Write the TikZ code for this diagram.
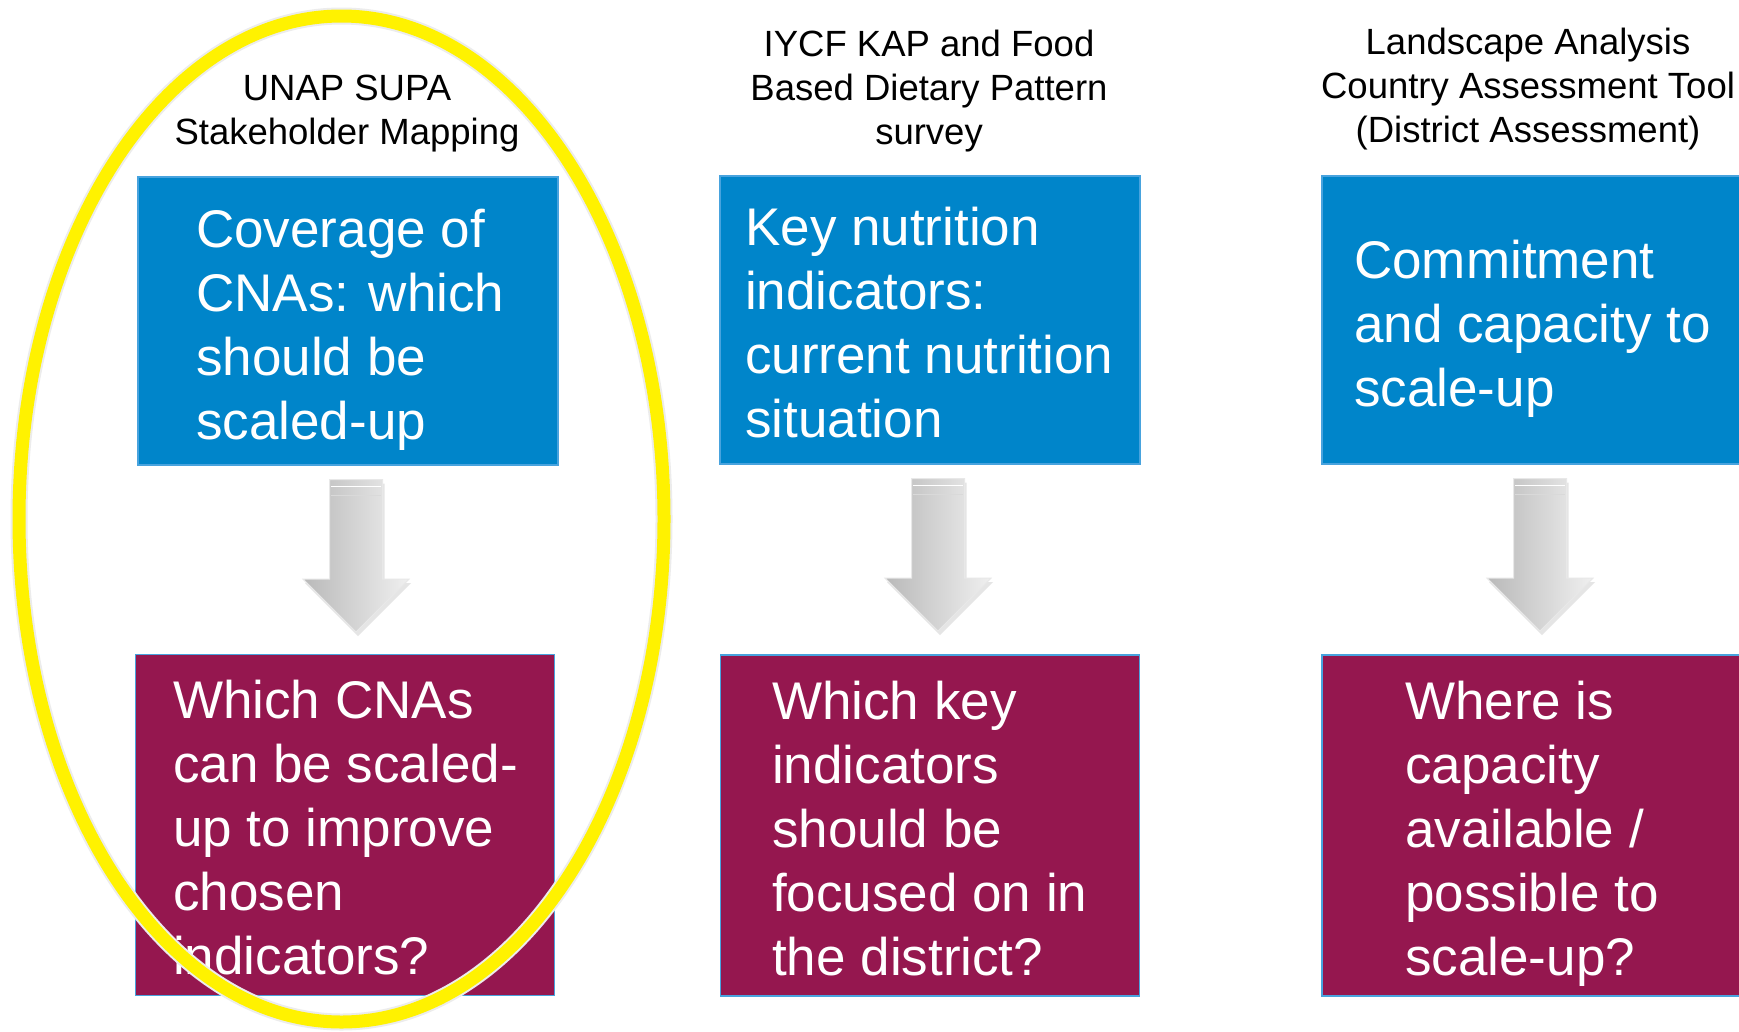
\documentclass[tikz,border=0pt]{standalone}
\usepackage{fontspec}
\setmainfont{Liberation Sans}
\usepackage{xcolor}
\usepackage{tikz}
\usetikzlibrary{calc,shadows}
\definecolor{boxblue}{HTML}{0085CA}
\definecolor{boxwine}{HTML}{95174F}
\definecolor{edgeblue}{HTML}{48A3DE}

\begin{document}
\begin{tikzpicture}[x=1pt, y=-1pt,
  head/.style={align=center, font=\fontsize{36.5}{44}\selectfont, inner sep=0pt},
  topbox/.style={fill=boxblue, draw=edgeblue, line width=1.2pt, minimum width=420pt, minimum height=288pt, inner sep=0pt},
  lowbox/.style={fill=boxwine, draw=edgeblue, line width=1.2pt, minimum width=419pt, minimum height=341pt, inner sep=0pt},
  boxtext/.style={anchor=west, align=left, text=white, font=\fontsize{53}{64}\selectfont, inner sep=0pt},
  blockarrow/.style={left color=gray!55, right color=gray!12, draw=gray!18, line width=1pt,
    drop shadow={opacity=0.2, shadow xshift=2pt, shadow yshift=-4pt}}]
\clip (0,0) rectangle (1739,1031);
\fill[white] (0,0) rectangle (1739,1031);

\node[head] (unap) at (347,113.5) {UNAP SUPA\\Stakeholder Mapping};
\node[head] (iycf) at (929,91.5) {IYCF KAP and Food\\Based Dietary Pattern\\survey};
\node[head] (lact) at (1528,89.5) {Landscape Analysis\\Country Assessment Tool\\(District Assessment)};

\node[topbox] (cov) at (348,321) {};
\node[topbox] (key) at (930,320) {};
\node[topbox] (com) at (1532,320) {};
\node[lowbox] (whcna) at (345,825) {};
\node[lowbox] (whkey) at (930,825.5) {};
\node[lowbox] (whcap) at (1531.5,825.5) {};

\node[boxtext] (covtext) at (196,329.5) {Coverage of\\CNAs: which\\should be\\scaled-up};
\node[boxtext] (keytext) at (745,323) {Key nutrition\\indicators:\\current nutrition\\situation};
\node[boxtext] (comtext) at (1354,328.5) {Commitment\\and capacity to\\scale-up};
\node[boxtext] (whcnatext) at (173,828) {Which CNAs\\can be scaled-\\up to improve\\chosen\\indicators?};
\node[boxtext] (whkeytext) at (772,829) {Which key\\indicators\\should be\\focused on in\\the district?};
\node[boxtext] (whcaptext) at (1405,834) {Where is\\capacity\\available /\\possible to\\scale-up?};

\foreach \up in {cov,key,com} {
  \shade[blockarrow] ($(\up.south)+(-18.5,14)$) -- ++(53,0) -- ++(0,99.5) -- ++(26.5,0)
    -- ++(-53,53) -- ++(-53,-53) -- ++(26.5,0) -- cycle;
  \draw[white, line width=1.5pt] ($(\up.south)+(-17,21)$) -- ++(50,0);
  \draw[gray!30, line width=1pt] ($(\up.south)+(-17,30)$) -- ++(50,0);
}

\draw[gray!15, line width=17pt] (341.5,519) ellipse (322.5 and 503);
\draw[yellow, line width=13pt] (341.5,519) ellipse (322.5 and 503);
\end{tikzpicture}
\end{document}
